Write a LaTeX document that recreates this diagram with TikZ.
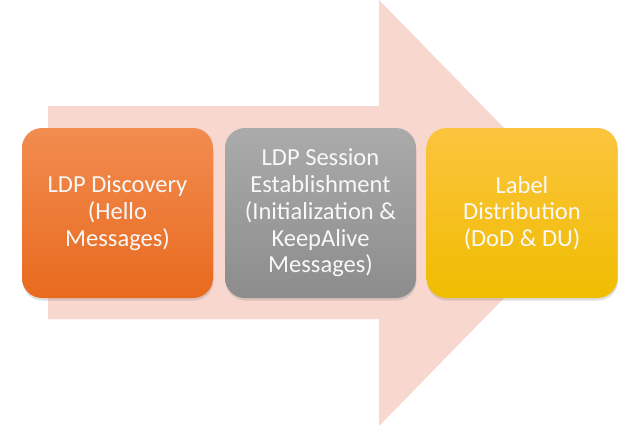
\documentclass[tikz,border=0pt]{standalone}
\usepackage{fontspec}
\setmainfont{Carlito}
\usetikzlibrary{shadows}
\definecolor{arrowpink}{HTML}{F8D7CE}
\definecolor{orangetop}{HTML}{F28C50}
\definecolor{orangebot}{HTML}{E86A1E}
\definecolor{graytop}{HTML}{ABABAB}
\definecolor{graybot}{HTML}{8C8C8C}
\definecolor{yellowtop}{HTML}{FCC43E}
\definecolor{yellowbot}{HTML}{EFBD00}
\definecolor{boxtext}{HTML}{F8F8F8}
\tikzset{
  stagebox/.style={rounded corners=20pt, minimum width=191pt, minimum height=170pt,
    align=center, text=boxtext, font=\fontsize{24.5}{26.7}\selectfont, inner sep=2pt,
    drop shadow={shadow xshift=0.5pt, shadow yshift=-2.5pt, opacity=0.25}},
  bigarrow/.style={fill=arrowpink, draw=none}
}
\begin{document}
\begin{tikzpicture}[x=1pt,y=-1pt]
\useasboundingbox (0,0) rectangle (640,426);
\fill[white] (0,0) rectangle (640,426);
\fill[bigarrow] (48,106) -- (379,106) -- (379,0) -- (587,213) -- (379,426) -- (379,319) -- (48,319) -- cycle;
\node[stagebox, top color=orangetop, bottom color=orangebot] (disc) at (117.5,213)
  {LDP Discovery\\(Hello\\Messages)};
\node[stagebox, top color=graytop, bottom color=graybot] (sess) at (320.5,213)
  {LDP Session\\Establishment\\(Initialization \&\\KeepAlive\\Messages)};
\node[stagebox, top color=yellowtop, bottom color=yellowbot] (dist) at (522,213)
  {Label\\Distribution\\(DoD \& DU)};
\end{tikzpicture}
\end{document}
